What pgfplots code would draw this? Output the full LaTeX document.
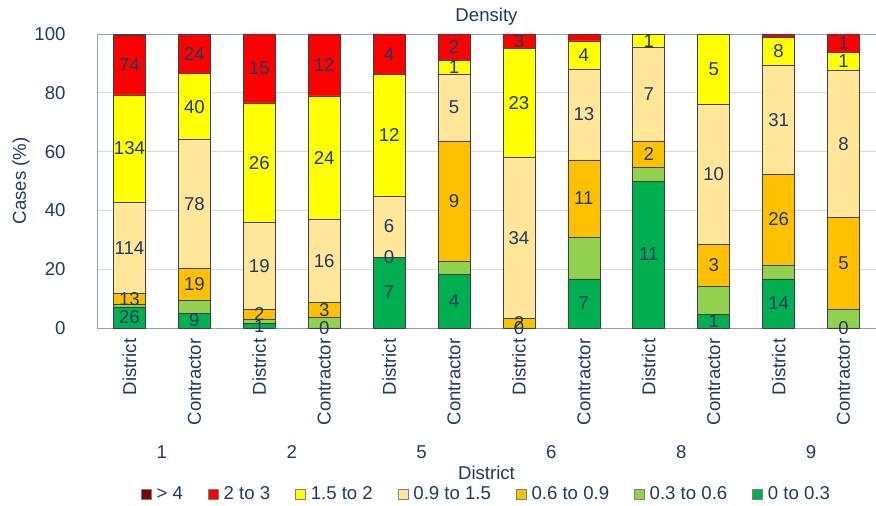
\documentclass[border=0pt]{standalone}
\usepackage{pgfplots}
\pgfplotsset{compat=1.18}
\usepackage{fontspec}
\setmainfont{Liberation Sans}

\definecolor{navy}{RGB}{32,56,100}
\definecolor{framec}{RGB}{143,160,196}
\definecolor{gridc}{RGB}{217,217,217}
\definecolor{edge}{RGB}{64,64,64}
\definecolor{cA}{RGB}{0,176,80}
\definecolor{cB}{RGB}{146,208,80}
\definecolor{cC}{RGB}{255,192,0}
\definecolor{cD}{RGB}{255,230,153}
\definecolor{cE}{RGB}{255,255,0}
\definecolor{cF}{RGB}{255,0,0}
\definecolor{cG}{RGB}{128,0,0}
\newcommand\lbl{\fontsize{18.6}{22}\selectfont}

\pgfplotsset{
  seg/.style={fill=#1, draw=edge, line width=0.6pt,
    legend image code/.code={\draw[fill=#1, draw=gray, line width=0.6pt] (0pt,-5pt) rectangle (10pt,5pt);}},
}

\begin{document}
\begin{tikzpicture}
\begin{axis}[
  name=ax,
  scale only axis, width=779pt, height=294pt,
  ybar stacked, bar width=32pt,
  xmin=-0.5, xmax=11.5, ymin=0, ymax=100,
  clip=false,
  /pgf/number format/assume math mode=true,
  axis line style={draw=framec, line width=0.8pt},
  ytick={0,20,...,100},
  ymajorgrids, grid style={draw=gridc, line width=0.8pt},
  ytick style={draw=none},
  yticklabel style={font=\lbl, text=navy, xshift=-28pt},
  xtick={0,...,11},
  xticklabels={District,Contractor,District,Contractor,District,Contractor,
               District,Contractor,District,Contractor,District,Contractor},
  xtick style={draw=none},
  xticklabel style={font=\lbl, text=navy, yshift=-7pt, rotate=90, anchor=east},
  extra x ticks={-0.5,1.5,3.5,5.5,7.5,9.5,11.5},
  extra x tick labels={},
  extra x tick style={grid=none, tick align=outside, major tick length=157pt,
    tick style={draw=framec, line width=0.8pt}},
  title={Density},
  title style={font=\lbl, text=navy, at={(axis description cs:0.5,1)}, anchor=center, yshift=11pt},
  xlabel={District},
  xlabel style={font=\lbl, text=navy, at={(axis description cs:0.5,0)}, anchor=center, yshift=-145pt},
  ylabel={Cases (\%)},
  ylabel style={font=\lbl, text=navy, at={([xshift=-76pt]axis description cs:0,0.5)}, anchor=center},
  legend columns=7, reverse legend,
  legend style={draw=none, fill=none, font=\lbl, text=navy, at={(0.5,0)}, anchor=center, yshift=-166pt,
    /tikz/every odd column/.append style={column sep=3pt},
    /tikz/every even column/.append style={column sep=23pt}},
  point meta=explicit symbolic,
  nodes near coords={\pgfplotspointmeta},
  every node near coord/.append style={font=\lbl, text=navy, anchor=center},
]
% 0 to 0.3
\addplot[seg=cA] coordinates {
  (0,7.08)[26] (1,5.06)[9] (2,1.56)[1] (3,0.01)[0] (4,24.14)[7] (5,18.18)[4]
  (6,0.01)[0] (7,16.67)[7] (8,50.00)[11] (9,4.76)[1] (10,16.67)[14] (11,0.01)[0]};
% 0.3 to 0.6
\addplot[seg=cB] coordinates {
  (0,1.09)[{}] (1,4.49)[{}] (2,1.56)[{}] (3,3.51)[{}] (4,0.01)[0] (5,4.55)[{}]
  (6,0)[{}] (7,14.29)[{}] (8,4.55)[{}] (9,9.52)[{}] (10,4.76)[{}] (11,6.25)[{}]};
% 0.6 to 0.9
\addplot[seg=cC] coordinates {
  (0,3.54)[13] (1,10.67)[19] (2,3.13)[2] (3,5.26)[3] (4,0)[{}] (5,40.91)[9]
  (6,3.23)[2] (7,26.19)[11] (8,9.09)[2] (9,14.29)[3] (10,30.95)[26] (11,31.25)[5]};
% 0.9 to 1.5
\addplot[seg=cD] coordinates {
  (0,31.06)[114] (1,43.82)[78] (2,29.69)[19] (3,28.07)[16] (4,20.69)[6] (5,22.73)[5]
  (6,54.84)[34] (7,30.95)[13] (8,31.82)[7] (9,47.62)[10] (10,36.90)[31] (11,50.00)[8]};
% 1.5 to 2
\addplot[seg=cE] coordinates {
  (0,36.51)[134] (1,22.47)[40] (2,40.63)[26] (3,42.11)[24] (4,41.38)[12] (5,4.55)[1]
  (6,37.10)[23] (7,9.52)[4] (8,4.55)[1] (9,23.81)[5] (10,9.52)[8] (11,6.25)[1]};
% 2 to 3
\addplot[seg=cF] coordinates {
  (0,20.16)[74] (1,13.48)[24] (2,23.44)[15] (3,21.05)[12] (4,13.79)[4] (5,9.09)[2]
  (6,4.84)[3] (7,2.38)[{}] (8,0)[{}] (9,0)[{}] (10,1.19)[{}] (11,6.25)[1]};
% > 4
\addplot[seg=cG] coordinates {
  (0,0.54)[{}] (1,0)[{}] (2,0)[{}] (3,0)[{}] (4,0)[{}] (5,0)[{}]
  (6,0)[{}] (7,0)[{}] (8,0)[{}] (9,0)[{}] (10,0)[{}] (11,0)[{}]};
\legend{0 to 0.3,0.3 to 0.6,0.6 to 0.9,0.9 to 1.5,1.5 to 2,2 to 3,> 4}
\foreach \g/\n in {0.5/1,2.5/2,4.5/5,6.5/6,8.5/8,10.5/9}{
  \edef\tmp{\noexpand\node[font=\noexpand\lbl, text=navy] at ([yshift=-124pt]axis cs:\g,0) {\n};}
  \tmp
}
\end{axis}
\pgfresetboundingbox
\path ([shift={(-97pt,-178pt)}]ax.south west) rectangle ([shift={(0pt,34pt)}]ax.north east);
\end{tikzpicture}
\end{document}
